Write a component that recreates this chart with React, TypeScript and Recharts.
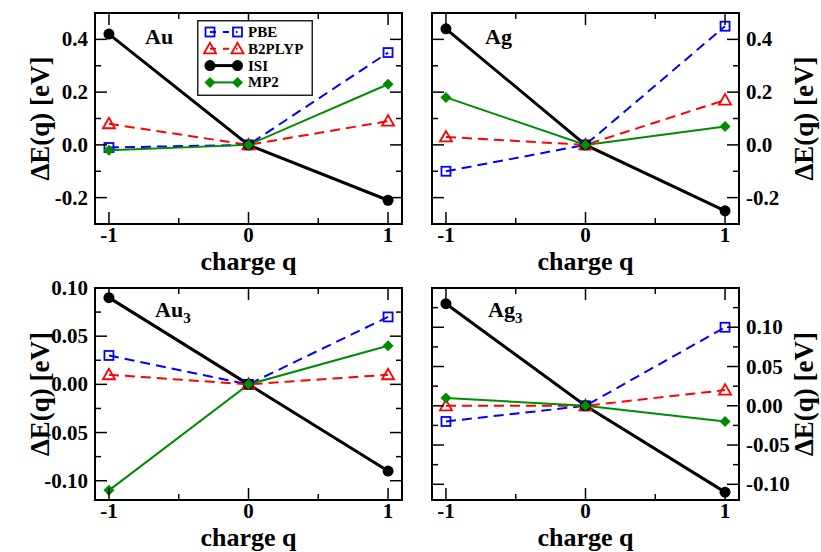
import React from 'react';
import { LineChart, Line, XAxis, YAxis, Legend, Label } from 'recharts';

const W = 821;
const H = 552;
const AX = 10; // band kept for each axis so the plot box lands where we want it
const FONT = '"Liberation Serif", "Times New Roman", Times, serif';

// charge states on the x axis
const charges = [-1, 0, 1];

// Au
const auPBE = [-0.01, 0, 0.35];
const auB2PLYP = [0.08, 0, 0.09];
const auISI = [0.42, 0, -0.21];
const auMP2 = [-0.02, 0, 0.23];

// Ag
const agPBE = [-0.1, 0, 0.45];
const agB2PLYP = [0.03, 0, 0.17];
const agISI = [0.44, 0, -0.25];
const agMP2 = [0.18, 0, 0.07];

// Au3
const au3PBE = [0.03, 0, 0.07];
const au3B2PLYP = [0.01, 0, 0.01];
const au3ISI = [0.09, 0, -0.09];
const au3MP2 = [-0.11, 0, 0.04];

// Ag3
const ag3PBE = [-0.02, 0, 0.1];
const ag3B2PLYP = [0.0, 0, 0.02];
const ag3ISI = [0.13, 0, -0.11];
const ag3MP2 = [0.01, 0, -0.02];

// ticks
const xTicks = [-1, -0.5, 0, 0.5, 1];
const xLabels = [-1, 0, 1];
const atomYTicks = [-0.2, -0.1, 0, 0.1, 0.2, 0.3, 0.4];
const atomYLabels = [-0.2, 0, 0.2, 0.4];
const au3YTicks = [-0.1, -0.075, -0.05, -0.025, 0, 0.025, 0.05, 0.075, 0.1];
const ag3YTicks = [-0.1, -0.075, -0.05, -0.025, 0, 0.025, 0.05, 0.075, 0.1, 0.125];
const trimerYLabels = [-0.1, -0.05, 0, 0.05, 0.1];

const COLORS = { PBE: '#0000ff', B2PLYP: '#ff0000', ISI: '#000000', MP2: '#008c00' };

const buildRows = (pbe: number[], b2: number[], isi: number[], mp2: number[]) =>
  charges.map((q, i) => ({ q, PBE: pbe[i], B2PLYP: b2[i], ISI: isi[i], MP2: mp2[i] }));

const near = (list: number[], v: number) => list.some((m) => Math.abs(m - v) < 1e-9);

const boldText = (size: number) => ({ fontFamily: FONT, fontWeight: 700, fontSize: size });

type Kind = 'square' | 'triangle' | 'circle' | 'diamond';

function marker(kind: Kind, cx: number, cy: number, color: string, key?: any) {
  if (kind === 'square')
    return <rect key={key} x={cx - 4.5} y={cy - 4.5} width={9} height={9} fill="none" stroke={color} strokeWidth={1.8} />;
  if (kind === 'triangle')
    return (
      <polygon
        key={key}
        points={`${cx},${cy - 6} ${cx - 6},${cy + 4.5} ${cx + 6},${cy + 4.5}`}
        fill="none"
        stroke={color}
        strokeWidth={1.8}
      />
    );
  if (kind === 'circle') return <circle key={key} cx={cx} cy={cy} r={5.5} fill={color} />;
  return (
    <polygon
      key={key}
      points={`${cx},${cy - 5.5} ${cx + 5.5},${cy} ${cx},${cy + 5.5} ${cx - 5.5},${cy}`}
      fill={color}
    />
  );
}

const dotOf = (kind: Kind, color: string) => (p: any) => marker(kind, p.cx, p.cy, color, `d-${p.index}`);

function xTick(side: 'bottom' | 'top') {
  return (p: any) => {
    const v = p.payload.value;
    const major = near(xLabels, v);
    const len = major ? 12 : 6;
    const dir = side === 'bottom' ? -1 : 1;
    return (
      <g>
        <line x1={p.x} x2={p.x} y1={p.y} y2={p.y + dir * len} stroke="#000" strokeWidth={1.5} />
        {side === 'bottom' && major && (
          <text x={p.x} y={p.y + 18} textAnchor="middle" fill="#000" style={boldText(21)}>
            {String(v)}
          </text>
        )}
      </g>
    );
  };
}

function yTick(side: 'left' | 'right', majors: number[], withLabel: boolean, digits: number) {
  return (p: any) => {
    const v = p.payload.value;
    const major = near(majors, v);
    const len = major ? 12 : 6;
    const dir = side === 'left' ? 1 : -1;
    const lx = side === 'left' ? p.x - 7 : p.x + 7;
    return (
      <g>
        <line x1={p.x} x2={p.x + dir * len} y1={p.y} y2={p.y} stroke="#000" strokeWidth={1.5} />
        {withLabel && major && (
          <text
            x={lx}
            y={p.y}
            dominantBaseline="central"
            textAnchor={side === 'left' ? 'end' : 'start'}
            fill="#000"
            style={boldText(21)}
          >
            {(Math.abs(v) < 1e-9 ? 0 : v).toFixed(digits)}
          </text>
        )}
      </g>
    );
  };
}

const yTitle = (cx: number, cy: number) => () => (
  <text
    x={cx}
    y={cy}
    transform={`rotate(-90 ${cx} ${cy})`}
    textAnchor="middle"
    dominantBaseline="central"
    fill="#000"
    style={boldText(27)}
  >
    ΔE(q) [eV]
  </text>
);

const xTitle = (cx: number, y: number) => () => (
  <text x={cx} y={y} textAnchor="middle" fill="#000" style={boldText(26)}>
    charge q
  </text>
);

const panelName = (x: number, y: number, name: string, sub?: string) => () => (
  <text x={x} y={y} fill="#000" style={boldText(22)}>
    {name}
    {sub && (
      <tspan dy={6} fontSize={15}>
        {sub}
      </tspan>
    )}
  </text>
);

const legendRows: { key: keyof typeof COLORS; kind: Kind; dash?: string; width: number }[] = [
  { key: 'PBE', kind: 'square', dash: '6 7', width: 2 },
  { key: 'B2PLYP', kind: 'triangle', dash: '6 7', width: 2 },
  { key: 'ISI', kind: 'circle', width: 3 },
  { key: 'MP2', kind: 'diamond', width: 2 },
];

const LegendBox = () => (
  <svg width={116} height={76}>
    <rect x={0.75} y={0.75} width={114.5} height={74.5} fill="#fff" stroke="#222" strokeWidth={1.5} />
    {legendRows.map((r, i) => {
      const y = 12 + i * 16.8;
      const c = COLORS[r.key];
      return (
        <g key={r.key}>
          <line x1={13} x2={40.5} y1={y} y2={y} stroke={c} strokeWidth={r.width} strokeDasharray={r.dash} />
          {marker(r.kind, 13, y, c)}
          {marker(r.kind, 40.5, y, c)}
          <text x={51} y={y + 5} fill="#000" style={boldText(15)}>
            {r.key}
          </text>
        </g>
      );
    })}
  </svg>
);

type PanelProps = {
  box: { left: number; right: number; top: number; bottom: number };
  rows: any[];
  yDomain: [number, number];
  yTicks: number[];
  yMajors: number[];
  digits: number;
  labelSide: 'left' | 'right';
  name: string;
  sub?: string;
  namePos: [number, number];
  showLegend?: boolean;
};

function Panel({ box, rows, yDomain, yTicks, yMajors, digits, labelSide, name, sub, namePos, showLegend }: PanelProps) {
  const frame = { stroke: '#000', strokeWidth: 2, strokeLinecap: 'square' as const };
  const cy = (box.top + box.bottom) / 2;
  return (
    <div style={{ position: 'absolute', left: 0, top: 0 }}>
      <LineChart
        width={W}
        height={H}
        data={rows}
        margin={{ top: box.top - AX, bottom: H - box.bottom - AX, left: box.left - AX, right: W - box.right - AX }}
      >
        <XAxis
          xAxisId="b"
          dataKey="q"
          type="number"
          domain={[-1.1, 1.1]}
          ticks={xTicks}
          interval={0}
          allowDataOverflow
          height={AX}
          tickSize={0}
          tickMargin={0}
          tickLine={false}
          axisLine={frame}
          tick={xTick('bottom')}
        >
          <Label content={xTitle((box.left + box.right) / 2, box.bottom + 46)} />
        </XAxis>
        <XAxis
          xAxisId="t"
          orientation="top"
          dataKey="q"
          type="number"
          domain={[-1.1, 1.1]}
          ticks={xTicks}
          interval={0}
          allowDataOverflow
          height={AX}
          tickSize={0}
          tickMargin={0}
          tickLine={false}
          axisLine={frame}
          tick={xTick('top')}
        >
          <Label content={panelName(namePos[0], namePos[1], name, sub)} />
        </XAxis>
        <YAxis
          yAxisId="l"
          type="number"
          domain={yDomain}
          ticks={yTicks}
          interval={0}
          allowDataOverflow
          width={AX}
          tickSize={0}
          tickMargin={0}
          tickLine={false}
          axisLine={frame}
          tick={yTick('left', yMajors, labelSide === 'left', digits)}
        >
          {labelSide === 'left' && <Label content={yTitle(40, cy)} />}
        </YAxis>
        <YAxis
          yAxisId="r"
          orientation="right"
          type="number"
          domain={yDomain}
          ticks={yTicks}
          interval={0}
          allowDataOverflow
          width={AX}
          tickSize={0}
          tickMargin={0}
          tickLine={false}
          axisLine={frame}
          tick={yTick('right', yMajors, labelSide === 'right', digits)}
        >
          {labelSide === 'right' && <Label content={yTitle(804, cy)} />}
        </YAxis>
        {showLegend && (
          <Legend
            layout="vertical"
            align="center"
            verticalAlign="middle"
            content={() => <LegendBox />}
            wrapperStyle={{ position: 'absolute', left: 197, top: 20, width: 116, height: 76 }}
          />
        )}
        <Line
          xAxisId="b"
          yAxisId="l"
          dataKey="PBE"
          stroke={COLORS.PBE}
          strokeWidth={2}
          strokeDasharray="10 6"
          dot={dotOf('square', COLORS.PBE)}
          isAnimationActive={false}
        />
        <Line
          xAxisId="b"
          yAxisId="l"
          dataKey="B2PLYP"
          stroke={COLORS.B2PLYP}
          strokeWidth={2}
          strokeDasharray="10 6"
          dot={dotOf('triangle', COLORS.B2PLYP)}
          isAnimationActive={false}
        />
        <Line
          xAxisId="b"
          yAxisId="l"
          dataKey="ISI"
          stroke={COLORS.ISI}
          strokeWidth={3}
          dot={dotOf('circle', COLORS.ISI)}
          isAnimationActive={false}
        />
        <Line
          xAxisId="b"
          yAxisId="l"
          dataKey="MP2"
          stroke={COLORS.MP2}
          strokeWidth={2}
          dot={dotOf('diamond', COLORS.MP2)}
          isAnimationActive={false}
        />
      </LineChart>
    </div>
  );
}

export default function App() {
  return (
    <div style={{ position: 'absolute', left: 0, top: 0, width: W, height: H, background: '#fff', overflow: 'hidden' }}>
      <Panel
        box={{ left: 95, right: 402, top: 13, bottom: 224 }}
        rows={buildRows(auPBE, auB2PLYP, auISI, auMP2)}
        yDomain={[-0.3, 0.5]}
        yTicks={atomYTicks}
        yMajors={atomYLabels}
        digits={1}
        labelSide="left"
        name="Au"
        namePos={[145, 44]}
        showLegend
      />
      <Panel
        box={{ left: 432, right: 739, top: 13, bottom: 224 }}
        rows={buildRows(agPBE, agB2PLYP, agISI, agMP2)}
        yDomain={[-0.3, 0.5]}
        yTicks={atomYTicks}
        yMajors={atomYLabels}
        digits={1}
        labelSide="right"
        name="Ag"
        namePos={[485, 44]}
      />
      <Panel
        box={{ left: 95, right: 402, top: 288, bottom: 500 }}
        rows={buildRows(au3PBE, au3B2PLYP, au3ISI, au3MP2)}
        yDomain={[-0.12, 0.1]}
        yTicks={au3YTicks}
        yMajors={trimerYLabels}
        digits={2}
        labelSide="left"
        name="Au"
        sub="3"
        namePos={[155, 317]}
      />
      <Panel
        box={{ left: 432, right: 739, top: 288, bottom: 500 }}
        rows={buildRows(ag3PBE, ag3B2PLYP, ag3ISI, ag3MP2)}
        yDomain={[-0.12, 0.15]}
        yTicks={ag3YTicks}
        yMajors={trimerYLabels}
        digits={2}
        labelSide="right"
        name="Ag"
        sub="3"
        namePos={[488, 317]}
      />
    </div>
  );
}
